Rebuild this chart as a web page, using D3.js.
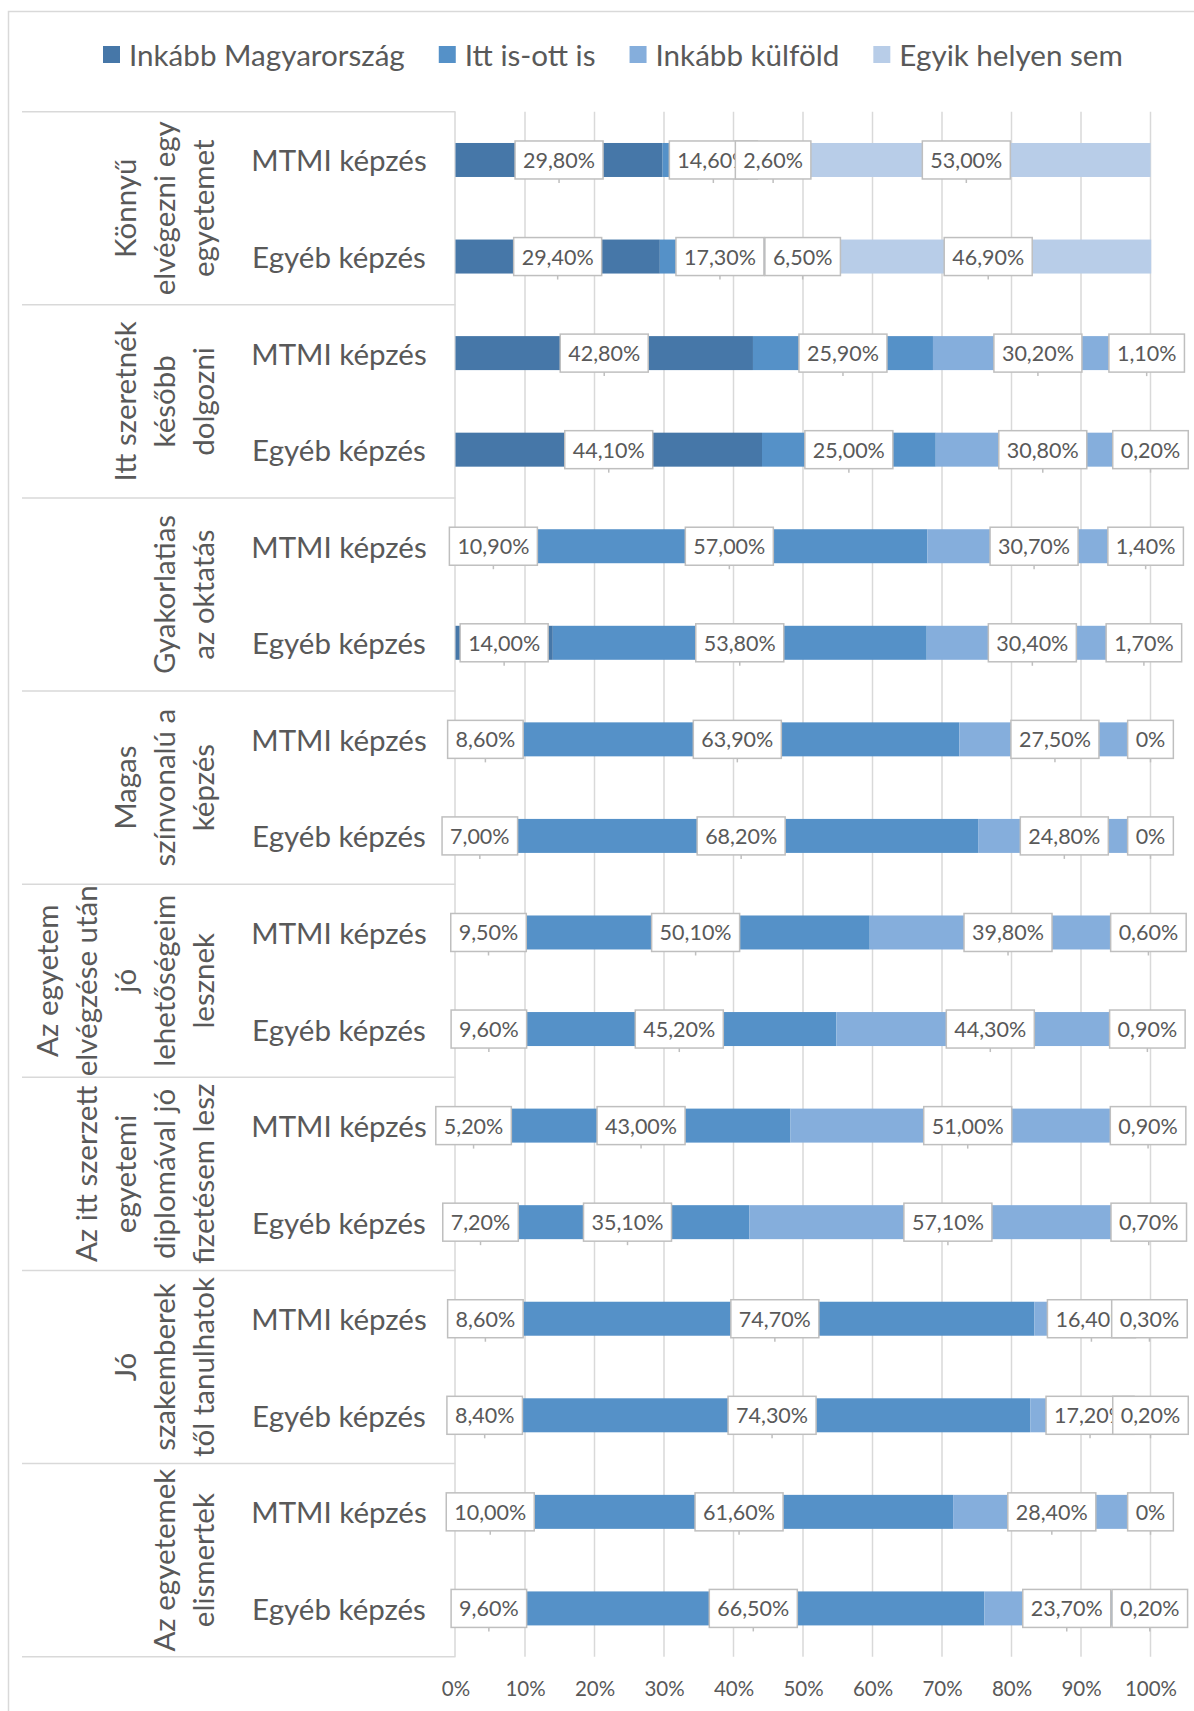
<!DOCTYPE html>
<html lang="hu">
<head>
<meta charset="utf-8">
<script src="https://cdn.jsdelivr.net/npm/d3@7"></script>
<style>
  html, body { margin: 0; padding: 0; background: #fff; }
  svg { display: block; }
  text { font-family: Lato, "Open Sans", sans-serif; fill: #595959; }
</style>
</head>
<body>
<svg id="chart" width="1194" height="1711"></svg>
<script>
// Statement groups (outer category level), wrapped as in the axis
const groups = [
  "Könnyű\nelvégezni egy\negyetemet",
  "Itt szeretnék\nkésőbb\ndolgozni",
  "Gyakorlatias\naz oktatás",
  "Magas\nszínvonalú a\nképzés",
  "Az egyetem\nelvégzése után\njó\nlehetőségeim\nlesznek",
  "Az itt szerzett\negyetemi\ndiplomával jó\nfizetésem lesz",
  "Jó\nszakemberek\ntől tanulhatok",
  "Az egyetemek\nelismertek"
];
// Inner category level
const programmes = ["MTMI képzés", "Egyéb képzés"];

// Series names
const seriesNames = ["Inkább Magyarország", "Itt is-ott is", "Inkább külföld", "Egyik helyen sem"];

// Values in percent, one per row (group × programme, top to bottom)
const inkabbMagyarorszag = [29.8, 29.4, 42.8, 44.1, 10.9, 14.0, 8.6, 7.0, 9.5, 9.6, 5.2, 7.2, 8.6, 8.4, 10.0, 9.6];
const ittIsOttIs         = [14.6, 17.3, 25.9, 25.0, 57.0, 53.8, 63.9, 68.2, 50.1, 45.2, 43.0, 35.1, 74.7, 74.3, 61.6, 66.5];
const inkabbKulfold      = [2.6, 6.5, 30.2, 30.8, 30.7, 30.4, 27.5, 24.8, 39.8, 44.3, 51.0, 57.1, 16.4, 17.2, 28.4, 23.7];
const egyikHelyenSem     = [53.0, 46.9, 1.1, 0.2, 1.4, 1.7, 0, 0, 0.6, 0.9, 0.9, 0.7, 0.3, 0.2, 0, 0.2];

// Axis ticks
const tickValues = [0, 10, 20, 30, 40, 50, 60, 70, 80, 90, 100];

const colors = ["#4677A8", "#5591C8", "#85AEDC", "#B8CDE8"];

// Row table built from the arrays above
const seriesValues = [inkabbMagyarorszag, ittIsOttIs, inkabbKulfold, egyikHelyenSem];
const rows = [];
groups.forEach((g, gi) => {
  programmes.forEach((p, pi) => {
    const idx = gi * programmes.length + pi;
    const row = { id: idx, group: gi, programme: p };
    seriesNames.forEach((s, si) => { row[s] = seriesValues[si][idx]; });
    rows.push(row);
  });
});

const svg = d3.select("#chart");

const plotTop = 111.7, plotBottom = 1656.7;
const x = d3.scaleLinear().domain([0, 100]).range([455.5, 1150.5]);
const y = d3.scaleBand()
  .domain(rows.map(r => r.id))
  .range([plotTop, plotBottom])
  .paddingInner(0.648)
  .paddingOuter(0.324);
const color = d3.scaleOrdinal().domain(seriesNames).range(colors);

// Outer chart frame
svg.append("rect")
  .attr("x", 8.5).attr("y", 11.5)
  .attr("width", 1300).attr("height", 1800)
  .attr("fill", "none").attr("stroke", "#D9D9D9").attr("stroke-width", 1.5);

// Legend
const legend = svg.append("g").attr("class", "legend");
let lx = 103;
seriesNames.forEach((s, i) => {
  const item = legend.append("g");
  item.append("rect")
    .attr("x", lx).attr("y", 46).attr("width", 17).attr("height", 17)
    .attr("fill", color(s));
  const t = item.append("text")
    .attr("x", lx + 26).attr("y", 54)
    .attr("dominant-baseline", "central")
    .style("font-size", "29.6px")
    .text(s);
  lx += 26 + t.node().getComputedTextLength() + 34;
});

// Vertical gridlines
svg.append("g").selectAll("line")
  .data(tickValues.slice(1))
  .join("line")
  .attr("x1", d => x(d)).attr("x2", d => x(d))
  .attr("y1", plotTop).attr("y2", plotBottom)
  .attr("stroke", "#D9D9D9").attr("stroke-width", 1.5);

// Category axis line and group separators
svg.append("line")
  .attr("x1", x(0) - 0.5).attr("x2", x(0) - 0.5)
  .attr("y1", plotTop).attr("y2", plotBottom)
  .attr("stroke", "#D9D9D9").attr("stroke-width", 1.5);

const groupStep = (plotBottom - plotTop) / groups.length;
const sepY = d3.range(groups.length + 1).map(i => plotTop + i * groupStep);
svg.append("g").selectAll("line").data(sepY).join("line")
  .attr("x1", 22).attr("x2", x(0)).attr("y1", d => d).attr("y2", d => d)
  .attr("stroke", "#D9D9D9").attr("stroke-width", 1.5);

// Inner category labels
svg.append("g").selectAll("text")
  .data(rows)
  .join("text")
  .attr("x", 339)
  .attr("y", d => y(d.id) + y.bandwidth() / 2)
  .attr("text-anchor", "middle")
  .attr("dominant-baseline", "central")
  .style("font-size", "29.5px")
  .text(d => d.programme);

// Outer group labels, rotated
const lineGap = 39;
const groupLabels = svg.append("g").selectAll("g")
  .data(groups)
  .join("g")
  .attr("transform", (d, i) => `translate(0,${plotTop + (i + 0.5) * groupStep})`);
groupLabels.each(function (d) {
  const lines = d.split("\n");
  d3.select(this).selectAll("text")
    .data(lines)
    .join("text")
    .attr("transform", (l, j) => `translate(${202 - (lines.length - 1 - j) * lineGap},0) rotate(-90)`)
    .attr("text-anchor", "middle")
    .attr("dominant-baseline", "central")
    .style("font-size", "29.5px")
    .text(l => l);
});

// Stacked bars
const stacked = d3.stack().keys(seriesNames)(rows);
const layers = svg.append("g").selectAll("g")
  .data(stacked)
  .join("g")
  .attr("fill", d => color(d.key));
layers.selectAll("rect")
  .data(d => d)
  .join("rect")
  .attr("x", d => x(d[0]))
  .attr("width", d => x(d[1]) - x(d[0]))
  .attr("y", d => y(d.data.id))
  .attr("height", y.bandwidth());

// Value labels in boxes, centred on each segment
const fmt = v => v === 0 ? "0%" : v.toFixed(2).replace(".", ",") + "%";
const boxH = 38;
const labelLayer = svg.append("g");
stacked.forEach(layer => {
  layer.forEach(seg => {
    const v = seg.data[layer.key];
    const cx = x((seg[0] + seg[1]) / 2);
    const cy = y(seg.data.id) + y.bandwidth() / 2;
    const g = labelLayer.append("g");
    g.append("line")
      .attr("x1", cx).attr("x2", cx)
      .attr("y1", cy + boxH / 2).attr("y2", cy + boxH / 2 + 4)
      .attr("stroke", "#BFBFBF").attr("stroke-width", 1.5);
    const box = g.append("rect").attr("fill", "#fff")
      .attr("stroke", "#BFBFBF").attr("stroke-width", 1.5);
    const t = g.append("text")
      .attr("x", cx).attr("y", cy)
      .attr("text-anchor", "middle")
      .attr("dominant-baseline", "central")
      .style("font-size", "21.5px")
      .text(fmt(v));
    const w = t.node().getComputedTextLength() + 16;
    box.attr("x", cx - w / 2).attr("y", cy - boxH / 2)
      .attr("width", w).attr("height", boxH);
  });
});

// Value axis
const xAxis = d3.axisBottom(x)
  .tickValues(tickValues)
  .tickFormat(d => d + "%")
  .tickSize(0)
  .tickPadding(0);
const axisG = svg.append("g")
  .attr("transform", `translate(0,${plotBottom})`)
  .call(xAxis);
axisG.select(".domain").remove();
axisG.selectAll("text")
  .attr("y", 31).attr("dy", null)
  .attr("dominant-baseline", "central")
  .style("font-family", "Lato, 'Open Sans', sans-serif")
  .style("font-size", "20.5px")
  .attr("fill", "#595959");
</script>
</body>
</html>
